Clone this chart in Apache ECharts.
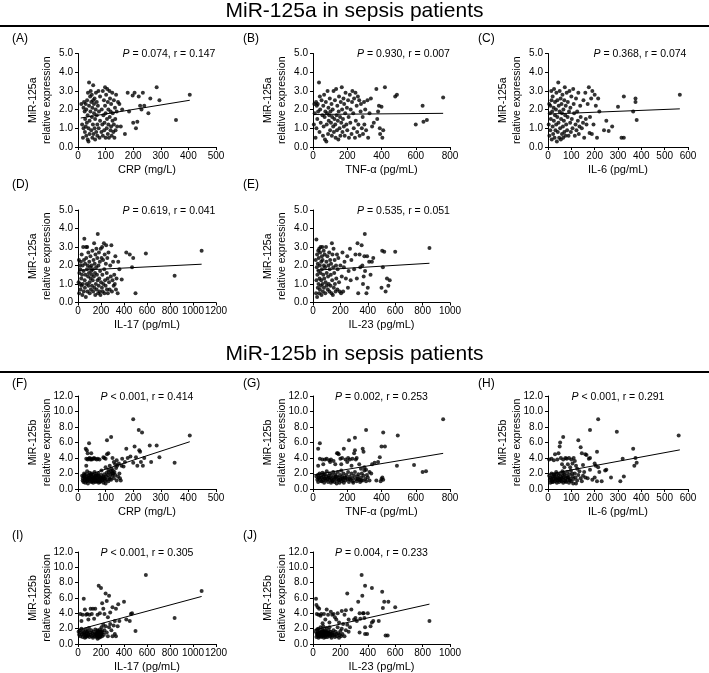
<!DOCTYPE html>
<html><head><meta charset="utf-8">
<script src="https://cdn.jsdelivr.net/npm/echarts@6/dist/echarts.min.js"></script>
<style>html,body{margin:0;padding:0;background:#fff}#c{width:709px;height:673px}</style>
</head><body><div id="c"></div>
<script>
// ---------- DATA ----------
const sectionTitles = ['MiR-125a in sepsis patients', 'MiR-125b in sepsis patients'];
const panelLabels = ['(A)','(B)','(C)','(D)','(E)','(F)','(G)','(H)','(I)','(J)'];
const xNames = ['CRP (mg/L)','TNF-α (pg/mL)','IL-6 (pg/mL)','IL-17 (pg/mL)','IL-23 (pg/mL)','CRP (mg/L)','TNF-α (pg/mL)','IL-6 (pg/mL)','IL-17 (pg/mL)','IL-23 (pg/mL)'];
const yNames = ['MiR-125a','MiR-125a','MiR-125a','MiR-125a','MiR-125a','MiR-125b','MiR-125b','MiR-125b','MiR-125b','MiR-125b'];
const xMaxes = [500,800,600,1200,1000,500,800,600,1200,1000];
const xSteps = [100,200,100,200,200,100,200,100,200,200];
const yMaxes = [5,5,5,5,5,12,12,12,12,12];
const ySteps = [1,1,1,1,1,2,2,2,2,2];
const pSigns = ['=','=','=','=','=','<','=','<','<','='];
const pValues = ['0.074','0.930','0.368','0.619','0.535','0.001','0.002','0.001','0.001','0.004'];
const rValues = ['0.147','0.007','0.074','0.041','0.051','0.414','0.253','0.291','0.305','0.233'];

const ptsA = [[12,2.3],[15,1.2],[18,0.5],[20,2.1],[20,1.0],[22,2.4],[24,1.9],[25,0.8],[26,1.5],[28,2.3],[28,1.1],[30,0.6],[30,2.0],[32,1.3],[33,2.5],[35,0.4],[35,1.7],[36,2.9],[38,0.3],[38,1.0],[40,3.45],[40,2.2],[42,1.4],[42,0.7],[44,2.7],[45,1.9],[46,3.0],[48,0.9],[48,2.4],[50,1.6],[50,2.8],[52,0.5],[52,2.1],[54,1.2],[55,3.3],[55,2.5],[56,0.7],[58,1.8],[58,2.3],[60,1.0],[60,2.6],[62,0.4],[62,1.5],[64,2.0],[65,2.9],[66,0.8],[68,1.7],[68,2.4],[70,1.2],[70,0.6],[72,2.2],[74,3.0],[75,1.0],[76,1.9],[78,0.5],[80,2.7],[80,1.4],[85,0.8],[86,2.0],[88,1.2],[90,3.0],[90,0.6],[92,1.7],[94,2.5],[95,0.9],[96,1.3],[98,3.2],[98,2.2],[100,0.5],[100,1.8],[102,2.8],[104,1.0],[105,1.5],[106,3.1],[108,0.7],[108,2.4],[110,2.0],[110,1.2],[112,0.5],[114,3.0],[115,1.6],[116,2.6],[118,0.9],[118,1.9],[120,2.3],[120,1.1],[122,0.6],[124,2.9],[125,1.4],[126,1.8],[128,0.8],[130,2.5],[130,1.2],[132,0.5],[134,2.1],[135,1.5],[136,0.9],[138,2.8],[140,1.9],[142,1.1],[145,2.4],[150,2.3],[155,1.1],[160,2.0],[170,0.7],[180,2.9],[185,1.9],[198,2.75],[200,1.3],[205,2.9],[210,1.0],[215,1.35],[220,2.7],[225,2.2],[230,2.0],[235,2.9],[240,2.2],[255,1.8],[262,2.6],[285,3.2],[295,2.5],[355,1.45],[405,2.8]];
const ptsB = [[5,1.2],[8,2.3],[10,1.8],[15,0.5],[18,2.4],[20,1.0],[22,2.2],[25,1.5],[28,2.3],[30,1.9],[35,3.45],[38,0.8],[40,2.7],[42,2.0],[45,1.3],[50,2.5],[55,1.7],[58,0.6],[60,2.2],[62,1.1],[65,2.8],[68,1.6],[70,0.4],[72,1.9],[75,2.4],[78,0.3],[80,1.2],[82,1.8],[85,3.0],[88,0.7],[90,2.1],[92,1.4],[95,1.7],[98,2.6],[100,0.9],[102,1.9],[105,1.3],[108,2.3],[110,0.6],[112,1.6],[115,2.0],[118,1.1],[120,3.0],[122,0.8],[125,1.5],[128,2.5],[130,1.2],[132,0.5],[135,3.1],[138,1.7],[140,0.9],[142,2.2],[145,1.4],[148,0.4],[150,1.9],[152,2.7],[155,1.0],[158,1.6],[160,0.6],[162,2.4],[165,1.3],[168,3.2],[170,2.0],[172,0.8],[175,1.5],[178,2.6],[180,1.1],[182,2.3],[185,0.6],[188,1.8],[190,2.9],[195,1.2],[198,2.1],[200,0.9],[205,2.5],[208,1.6],[210,0.5],[215,2.8],[218,1.3],[220,2.0],[225,0.7],[228,2.4],[230,3.0],[235,1.8],[238,1.0],[240,2.6],[245,0.5],[248,2.9],[250,1.4],[255,2.2],[258,0.8],[262,2.7],[265,1.2],[270,2.5],[272,0.6],[278,1.9],[280,2.3],[285,1.0],[290,1.6],[292,0.7],[298,2.4],[300,1.2],[305,2.0],[310,0.9],[318,2.5],[322,0.5],[330,1.8],[338,2.6],[345,1.1],[355,1.3],[370,3.1],[375,1.5],[380,1.9],[385,2.2],[390,1.0],[392,0.7],[400,2.15],[405,0.5],[410,0.9],[420,3.2],[480,2.7],[490,2.8],[600,1.2],[640,2.2],[645,1.35],[665,1.45],[760,2.65]];
const ptsC = [[3,1.2],[5,2.3],[6,0.6],[8,1.8],[10,2.2],[10,0.9],[12,1.5],[14,3.0],[15,2.5],[16,0.4],[18,1.9],[20,1.1],[20,2.7],[22,0.7],[24,2.1],[25,1.4],[26,3.1],[28,0.5],[30,1.7],[30,2.4],[32,0.9],[34,2.0],[35,1.2],[36,2.9],[38,0.3],[40,1.6],[40,2.5],[42,0.8],[44,3.45],[45,1.3],[46,2.2],[48,0.5],[50,1.9],[50,3.0],[52,1.0],[54,2.6],[55,0.4],[56,1.5],[58,2.3],[60,0.7],[60,1.8],[62,2.8],[64,1.1],[65,0.5],[66,2.0],[68,1.4],[70,2.5],[70,0.8],[72,3.2],[74,1.7],[75,0.6],[76,2.2],[78,1.2],[80,2.9],[82,0.9],[84,1.6],[85,2.4],[88,0.6],[90,1.9],[92,3.0],[95,1.3],[96,2.1],[98,0.8],[100,2.7],[102,1.5],[105,1.0],[108,3.1],[110,2.3],[112,1.8],[115,0.6],[118,1.2],[120,2.6],[122,0.9],[125,1.9],[128,1.4],[130,2.9],[132,0.7],[135,1.1],[138,2.2],[140,1.6],[145,1.0],[150,1.3],[152,2.5],[155,0.5],[160,2.9],[162,1.5],[165,1.2],[170,2.3],[175,3.2],[178,0.75],[180,1.6],[185,2.6],[188,0.7],[190,3.0],[195,1.2],[200,2.8],[205,2.2],[210,0.5],[215,2.6],[220,1.9],[240,0.9],[250,1.4],[260,0.85],[275,1.1],[300,2.15],[315,0.5],[325,0.5],[325,2.7],[365,1.9],[375,2.6],[375,2.4],[380,1.45],[565,2.8]];
const ptsD = [[5,1.1],[8,2.3],[10,0.5],[12,1.6],[15,2.0],[18,1.0],[20,1.8],[22,0.7],[25,2.2],[28,1.3],[30,0.9],[32,2.6],[35,1.5],[38,0.4],[40,2.0],[42,1.0],[45,3.0],[48,1.7],[50,0.6],[52,2.3],[55,3.45],[58,1.2],[60,0.8],[62,2.1],[65,1.5],[68,0.3],[70,3.0],[72,2.4],[75,1.0],[78,1.8],[80,3.0],[82,0.6],[85,2.0],[88,1.4],[90,2.7],[92,0.9],[95,1.6],[98,2.2],[100,1.1],[102,0.5],[105,1.9],[108,2.5],[110,1.3],[112,0.7],[115,1.7],[118,2.0],[120,1.5],[122,0.9],[125,2.8],[128,1.2],[130,1.8],[132,0.6],[135,2.3],[138,1.4],[140,3.2],[142,0.8],[145,2.1],[148,1.6],[150,0.4],[152,2.6],[155,1.0],[158,1.9],[160,2.9],[162,0.7],[165,1.5],[168,2.4],[170,1.2],[172,3.7],[175,0.5],[178,2.0],[180,0.9],[182,2.7],[185,1.3],[188,0.6],[190,2.2],[192,1.7],[195,0.4],[198,2.9],[200,1.1],[205,2.4],[208,0.8],[210,3.0],[212,1.5],[215,0.6],[218,2.3],[220,1.0],[225,3.2],[228,1.8],[230,0.5],[232,2.6],[235,1.2],[240,0.9],[242,2.1],[245,3.1],[250,1.6],[252,0.7],[255,2.4],[258,1.3],[260,0.5],[265,2.7],[270,1.1],[275,0.7],[280,2.0],[285,1.4],[290,3.1],[295,0.6],[300,1.2],[305,2.2],[310,0.9],[315,1.5],[320,1.0],[325,2.5],[330,0.7],[335,1.3],[345,0.5],[350,2.2],[360,1.8],[380,1.25],[420,2.7],[450,2.6],[470,1.9],[480,2.4],[500,0.5],[590,2.65],[840,1.45],[1075,2.8]];
const ptsE = [[20,2.3],[22,0.5],[25,1.2],[25,3.4],[28,1.9],[30,0.3],[30,2.6],[32,1.5],[35,2.1],[35,0.8],[38,2.8],[40,1.0],[40,1.7],[42,2.4],[45,0.5],[45,2.9],[48,1.3],[50,2.0],[50,0.7],[52,2.7],[55,1.6],[55,3.0],[58,0.9],[60,2.2],[60,1.2],[62,0.4],[65,2.5],[65,1.8],[68,3.0],[70,1.0],[70,2.3],[72,0.6],[75,1.5],[78,2.8],[80,2.0],[80,0.8],[82,1.3],[85,2.6],[88,1.9],[90,0.5],[92,1.1],[95,3.0],[98,2.2],[100,0.9],[100,1.6],[105,2.5],[108,0.7],[110,1.4],[112,2.0],[115,1.0],[118,2.7],[120,0.6],[122,1.8],[125,2.3],[128,0.9],[130,1.5],[132,2.1],[135,0.5],[138,3.2],[140,1.2],[142,2.6],[145,0.4],[148,1.9],[150,2.9],[152,0.8],[155,1.6],[158,2.3],[160,1.0],[165,0.6],[168,2.0],[170,1.3],[175,2.6],[178,0.7],[180,1.8],[185,2.4],[190,1.1],[195,0.6],[200,2.0],[205,0.5],[210,1.4],[215,2.7],[220,0.6],[225,1.9],[230,2.2],[240,1.3],[250,2.5],[255,0.8],[260,1.7],[270,2.9],[275,1.2],[280,2.3],[300,1.8],[310,2.6],[320,1.3],[325,3.2],[330,0.5],[340,2.6],[345,1.9],[355,3.1],[360,2.0],[365,1.0],[370,1.4],[375,2.5],[378,3.7],[380,1.7],[390,0.5],[395,2.5],[400,0.8],[410,2.2],[420,1.5],[430,2.2],[440,2.4],[500,0.8],[505,2.8],[510,1.9],[520,2.75],[530,0.6],[540,1.3],[550,0.9],[560,1.2],[600,2.75],[850,2.95]];
const ptsF = [[15,1.7],[18,1.4],[20,0.9],[20,1.6],[22,2.0],[24,1.2],[25,1.5],[26,0.8],[28,1.9],[30,1.3],[30,1.6],[32,1.0],[33,2.3],[35,1.4],[36,0.7],[38,1.8],[40,1.2],[42,1.5],[42,2.1],[44,1.0],[45,1.7],[46,1.3],[48,0.9],[50,1.6],[50,2.0],[52,1.2],[54,1.4],[55,0.8],[56,1.8],[58,1.1],[60,1.5],[60,2.2],[62,1.3],[64,0.9],[65,1.7],[66,1.2],[68,1.9],[70,1.0],[70,1.5],[72,1.3],[74,2.0],[75,0.8],[76,1.6],[78,1.2],[80,1.4],[82,1.0],[84,1.8],[85,2.4],[88,1.1],[90,1.5],[92,0.8],[94,1.3],[95,1.9],[98,1.1],[100,2.8],[100,0.7],[102,1.6],[104,2.1],[105,1.2],[108,1.8],[110,2.5],[110,1.0],[112,2.2],[114,1.5],[115,3.0],[118,1.9],[120,2.3],[120,1.2],[122,2.6],[125,1.7],[128,2.0],[130,1.4],[130,3.5],[132,2.2],[135,1.8],[138,2.7],[140,1.1],[142,3.0],[145,1.6],[148,3.3],[150,2.0],[152,1.4],[155,1.1],[158,3.0],[17,1.1],[23,1.8],[27,1.4],[34,1.1],[39,1.5],[47,1.9],[53,1.0],[57,1.5],[63,1.7],[67,1.0],[73,1.7],[79,0.9],[83,1.5],[87,1.3],[93,1.6],[97,1.4],[116,1.3],[124,2.0],[126,2.4],[30,3.9],[35,3.8],[38,3.9],[42,4.0],[45,3.8],[48,3.9],[50,3.8],[55,3.9],[58,4.0],[62,3.9],[68,3.8],[72,3.9],[78,3.8],[35,4.6],[30,3.0],[92,4.1],[95,4.0],[100,3.9],[105,4.5],[110,4.6],[125,4.0],[135,3.2],[140,3.7],[28,5.2],[32,5.0],[40,5.9],[48,4.6],[105,6.3],[120,6.7],[160,3.9],[165,2.9],[170,3.5],[175,5.2],[180,4.0],[190,4.2],[200,9.0],[200,3.4],[205,5.5],[210,4.1],[215,3.0],[220,7.6],[222,5.0],[225,4.8],[228,3.5],[232,7.3],[235,3.0],[240,4.0],[260,5.6],[265,3.5],[285,5.6],[295,4.1],[350,3.4],[405,6.9]];
const ptsG = [[20,1.6],[25,1.2],[28,1.8],[30,0.9],[35,1.5],[38,2.0],[40,1.3],[45,1.7],[48,1.0],[50,1.5],[55,2.1],[58,1.2],[60,1.6],[65,0.8],[68,1.4],[70,1.9],[75,1.1],[78,1.6],[80,2.3],[85,1.3],[88,0.9],[90,1.7],[95,1.2],[98,2.0],[100,1.5],[105,0.8],[108,1.3],[110,1.8],[115,1.1],[118,2.2],[120,1.5],[125,0.9],[128,1.4],[130,1.9],[135,1.2],[138,0.7],[140,1.6],[145,2.2],[148,1.1],[150,1.5],[155,0.8],[158,1.8],[160,1.3],[165,2.4],[168,1.0],[170,1.6],[175,1.2],[178,2.0],[180,0.8],[185,1.5],[190,1.1],[195,1.8],[200,1.3],[205,2.2],[210,0.9],[215,1.6],[220,1.2],[225,2.0],[230,1.4],[235,0.8],[240,1.7],[245,2.2],[250,1.3],[255,1.0],[260,1.6],[265,1.9],[270,1.2],[275,0.9],[280,1.5],[285,2.0],[290,1.1],[295,1.7],[300,2.4],[305,1.3],[310,1.0],[315,1.8],[320,1.5],[330,1.1],[340,2.0],[370,1.1],[395,1.0],[400,1.3],[405,1.5],[32,1.4],[52,1.0],[62,1.9],[72,1.3],[92,1.5],[112,1.0],[132,1.6],[152,1.2],[172,1.4],[192,1.5],[212,1.3],[232,1.0],[262,1.3],[282,1.1],[30,3.0],[40,3.9],[55,3.8],[60,3.2],[70,3.8],[80,3.9],[95,3.7],[100,3.5],[105,3.8],[120,3.6],[130,3.2],[140,4.6],[145,4.6],[150,4.5],[160,3.9],[165,3.2],[170,4.0],[180,5.2],[190,3.8],[200,3.5],[205,4.0],[215,3.8],[225,3.0],[230,3.9],[240,4.6],[245,5.0],[250,3.8],[255,4.0],[270,3.2],[280,2.6],[290,5.2],[295,4.8],[300,2.8],[310,2.5],[330,2.2],[345,3.2],[360,3.4],[380,3.5],[390,4.1],[410,1.2],[30,5.2],[40,5.9],[210,6.3],[245,6.6],[310,7.6],[410,7.3],[400,5.5],[420,5.5],[495,6.9],[490,3.0],[590,3.1],[640,2.2],[660,2.3],[760,9.0]];
const ptsH = [[5,1.7],[8,1.2],[10,0.8],[12,1.5],[15,2.0],[18,1.1],[20,1.6],[22,0.9],[25,1.3],[28,1.8],[30,1.0],[32,1.4],[35,2.2],[38,0.8],[40,1.5],[42,1.1],[45,1.8],[48,0.9],[50,1.3],[52,2.0],[55,1.6],[58,1.0],[60,1.3],[62,2.3],[65,0.8],[68,1.5],[70,1.9],[72,1.1],[75,1.4],[78,0.9],[80,1.7],[82,2.2],[85,1.2],[88,1.5],[90,0.8],[92,1.9],[95,1.3],[98,2.4],[100,1.0],[105,1.6],[108,0.7],[110,1.3],[115,2.0],[118,1.5],[120,0.7],[125,1.1],[130,1.8],[135,2.3],[140,1.4],[145,1.0],[150,1.7],[155,2.2],[160,1.5],[170,1.4],[180,2.5],[190,1.2],[200,1.5],[210,1.0],[220,2.2],[230,1.0],[245,2.4],[250,2.5],[270,1.5],[310,1.0],[325,1.6],[14,1.3],[24,1.9],[34,1.2],[44,1.4],[54,1.1],[64,1.7],[74,1.0],[84,1.5],[94,1.1],[104,2.0],[17,0.9],[27,1.6],[37,1.9],[47,1.2],[57,1.4],[67,2.1],[5,3.8],[15,3.9],[25,3.7],[30,4.5],[40,3.8],[45,4.6],[50,5.5],[52,6.0],[55,4.0],[60,3.2],[65,3.8],[70,2.8],[75,4.0],[80,3.9],[85,3.2],[90,4.0],[95,2.8],[100,3.8],[105,3.3],[110,4.0],[115,3.6],[120,3.0],[125,2.6],[140,5.4],[145,4.6],[150,3.1],[160,4.5],[165,4.4],[175,3.9],[180,4.0],[200,3.3],[205,3.0],[215,2.8],[65,6.7],[130,6.3],[180,7.6],[215,9.0],[210,4.8],[295,7.4],[320,3.9],[365,5.2],[370,3.0],[375,4.0],[380,3.4],[560,6.9]];
const ptsI = [[5,1.6],[10,1.2],[15,1.8],[20,1.0],[25,1.5],[30,2.0],[35,1.3],[40,0.9],[45,1.7],[50,1.2],[55,1.5],[60,0.8],[65,1.9],[70,1.1],[75,1.4],[80,1.0],[85,1.7],[90,1.3],[95,2.1],[100,0.9],[105,1.5],[110,1.2],[115,1.8],[120,1.0],[125,1.4],[130,0.8],[135,1.6],[140,1.2],[145,1.0],[150,1.9],[155,1.3],[160,0.9],[162,1.5],[165,1.1],[168,1.8],[170,0.7],[172,1.4],[175,1.0],[178,1.6],[180,1.2],[182,0.8],[185,1.5],[188,1.1],[190,1.9],[192,1.3],[195,0.9],[198,1.6],[200,1.2],[205,2.2],[210,1.0],[215,1.5],[220,2.5],[225,1.2],[230,1.8],[240,2.3],[250,1.5],[260,1.0],[270,2.2],[280,2.6],[290,1.8],[300,1.0],[310,2.4],[320,1.3],[330,1.0],[345,2.3],[58,1.3],[68,0.9],[78,1.6],[88,1.1],[158,1.2],[166,1.4],[174,1.2],[176,1.7],[184,1.0],[186,1.3],[194,1.6],[196,1.1],[202,1.4],[208,1.7],[20,3.9],[30,3.0],[40,3.8],[50,5.9],[60,4.5],[70,3.8],[80,3.9],[90,3.2],[100,3.8],[110,4.6],[120,3.9],[130,4.6],[140,3.3],[150,4.6],[170,3.8],[180,7.6],[190,4.0],[200,7.3],[210,5.3],[220,4.6],[230,3.9],[240,6.6],[250,5.6],[260,3.5],[270,6.3],[280,4.1],[300,4.8],[320,3.0],[330,4.6],[350,5.2],[360,3.0],[400,5.5],[420,3.2],[450,3.0],[460,3.9],[470,4.0],[500,1.7],[590,9.0],[840,3.4],[1075,6.9]];
const ptsJ = [[20,1.6],[25,0.9],[28,1.3],[30,1.9],[32,1.1],[35,1.5],[38,2.0],[40,0.8],[42,1.3],[45,1.7],[48,1.0],[50,1.5],[55,2.2],[58,1.2],[60,0.9],[62,1.6],[65,1.3],[68,1.9],[70,1.0],[72,1.5],[75,2.3],[78,1.2],[80,0.8],[82,1.6],[85,1.1],[88,1.8],[90,1.4],[92,0.9],[95,1.6],[98,2.1],[100,1.2],[105,0.9],[108,1.5],[110,1.1],[115,1.8],[118,1.3],[120,2.2],[125,1.0],[128,1.6],[130,1.3],[135,0.8],[140,1.5],[145,1.1],[150,1.8],[155,1.2],[160,0.9],[165,1.6],[170,1.3],[175,1.0],[180,2.2],[185,1.4],[190,0.8],[195,1.2],[200,1.7],[205,1.0],[210,2.0],[215,1.3],[220,2.6],[230,1.0],[240,1.8],[250,2.5],[260,1.6],[270,2.2],[33,1.3],[43,1.0],[53,1.4],[63,1.1],[73,1.7],[83,1.3],[103,1.5],[113,1.4],[123,1.2],[143,1.3],[22,5.9],[25,5.1],[28,3.9],[35,4.8],[40,3.8],[45,4.6],[55,3.7],[60,3.9],[70,2.7],[80,3.9],[90,3.2],[100,4.5],[110,3.8],[120,2.8],[130,4.2],[140,3.8],[150,3.9],[160,3.5],[170,3.2],[180,4.0],[190,2.8],[210,4.3],[230,3.8],[240,4.4],[260,3.2],[280,4.5],[300,3.2],[310,3.4],[320,3.0],[340,4.0],[345,3.3],[365,4.0],[375,3.4],[380,2.2],[400,4.0],[420,2.3],[430,2.8],[250,6.6],[330,5.5],[340,1.5],[355,9.0],[360,6.3],[370,4.0],[380,7.6],[380,1.3],[395,1.3],[430,7.3],[440,3.0],[480,3.0],[505,6.8],[510,4.7],[520,5.5],[530,1.1],[545,1.1],[550,5.5],[600,4.8],[850,3.0]];
const points = [ptsA, ptsB, ptsC, ptsD, ptsE, ptsF, ptsG, ptsH, ptsI, ptsJ];

// regression line end points
const fitLines = [
  [[10,1.55],[405,2.5]],
  [[0,1.74],[760,1.8]],
  [[0,1.76],[565,2.04]],
  [[0,1.74],[1075,2.07]],
  [[25,1.75],[850,2.12]],
  [[35,1.8],[405,6.1]],
  [[0,1.8],[760,4.6]],
  [[0,1.9],[565,5.05]],
  [[0,1.85],[1075,6.2]],
  [[0,1.8],[850,5.2]]
];

// ---------- LAYOUT ----------
const FONT = '"Liberation Sans", Arial, Helvetica, sans-serif';
const colLeft = [78, 313, 548];
const colWidth = [138, 137, 140];
const rowTop = [53.5, 210, 396, 552];
const rowHeight = [93.5, 92.5, 93, 92.3];
const cells = [[0,0],[0,1],[0,2],[1,0],[1,1],[2,0],[2,1],[2,2],[3,0],[3,1]];
const labelX = [12, 243, 478];
const labelY = [40, 186, 385, 537];

const chart = echarts.init(document.getElementById('c'), null, {renderer:'canvas'});
const grid=[], xAxis=[], yAxis=[], series=[], graphic=[];

graphic.push({type:'text', left:'center', top:1, style:{text:sectionTitles[0], font:'21px '+FONT, fill:'#000'}});
graphic.push({type:'rect', shape:{x:0,y:25,width:709,height:2}, style:{fill:'#000'}});
graphic.push({type:'text', left:'center', top:344, style:{text:sectionTitles[1], font:'21px '+FONT, fill:'#000'}});
graphic.push({type:'rect', shape:{x:0,y:371,width:709,height:2}, style:{fill:'#000'}});

cells.forEach(([r,c],i)=>{
  const L=colLeft[c], T=rowTop[r], Wd=colWidth[c], H=rowHeight[r];
  grid.push({left:L, top:T, width:Wd, height:H, containLabel:false});
  const axisCommon = {
    gridIndex:i, min:0, nameMoveOverlap:false,
    axisLine:{show:true, onZero:false, lineStyle:{color:'#000', width:1}},
    axisTick:{show:true, length:3, lineStyle:{color:'#000', width:1}},
    splitLine:{show:false},
  };
  xAxis.push(Object.assign({}, axisCommon, {
    type:'value', max:xMaxes[i], interval:xSteps[i],
    axisLabel:{color:'#000', fontSize:10, fontFamily:FONT, margin:4, formatter:v=>String(v)},
    name:xNames[i], nameLocation:'middle', nameGap:17,
    nameTextStyle:{color:'#000', fontSize:11, fontFamily:FONT}
  }));
  yAxis.push(Object.assign({}, axisCommon, {
    type:'value', max:yMaxes[i], interval:ySteps[i],
    axisLabel:{color:'#000', fontSize:10, fontFamily:FONT, margin:5, formatter:v=>v.toFixed(1)},
    name:yNames[i]+'\nrelative expression', nameLocation:'middle', nameGap:24, nameRotate:90,
    nameTextStyle:{color:'#000', fontSize:10.5, lineHeight:14, fontFamily:FONT}
  }));
  series.push({type:'scatter', xAxisIndex:i, yAxisIndex:i, data:points[i], symbol:'circle', symbolSize:4,
    itemStyle:{color:'#000'}, silent:true, z:3});
  series.push({type:'line', xAxisIndex:i, yAxisIndex:i, data:fitLines[i], symbol:'none',
    lineStyle:{color:'#000', width:1}, silent:true, z:2, animation:false});
  graphic.push({type:'text', left:labelX[c], top:labelY[r]-7, style:{text:panelLabels[i], font:'12px '+FONT, fill:'#000'}});
  const cx = L + Wd/2 + (r<2 ? 22 : 0);
  graphic.push({type:'text', x:cx, y:T+1,
    style:{text:'{i|P} '+pSigns[i]+' '+pValues[i]+', r = '+rValues[i], align:'center', verticalAlign:'middle',
      font:'10.5px '+FONT, fill:'#000', rich:{i:{fontStyle:'italic', fontSize:10.5, fontFamily:FONT, fill:'#000'}}}});
});

chart.setOption({animation:false, backgroundColor:'#fff', grid, xAxis, yAxis, series, graphic});
</script></body></html>
